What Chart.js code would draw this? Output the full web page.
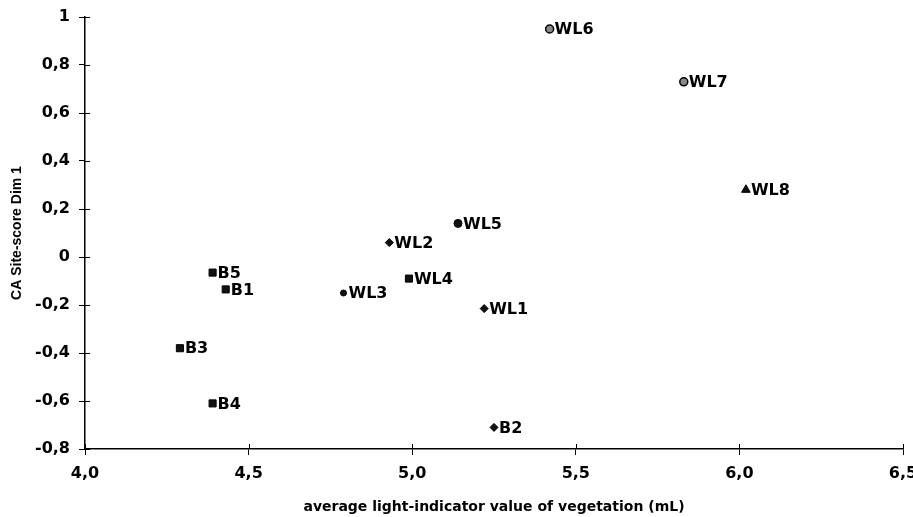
<!DOCTYPE html>
<html>
<head>
<meta charset="utf-8">
<script src="https://cdn.jsdelivr.net/npm/chart.js@4"></script>
<style>
  body { margin: 0; background: #fff; }
  #wrap { width: 913px; height: 517px; }
</style>
</head>
<body>
<div id="wrap"><canvas id="scatterChart" width="913" height="517"></canvas></div>
<script>
// Tick labels (comma decimals, as in the original)
const xTickLabels = ['4,0', '4,5', '5,0', '5,5', '6,0', '6,5'];
const yTickLabels = ['-0,8', '-0,6', '-0,4', '-0,2', '0', '0,2', '0,4', '0,6', '0,8', '1'];

// Sites drawn as squares
const squareNames = ['B1', 'B3', 'B4', 'B5', 'WL4'];
const squareX = [4.43, 4.29, 4.39, 4.39, 4.99];
const squareY = [-0.135, -0.38, -0.61, -0.065, -0.09];

// Sites drawn as diamonds
const diamondNames = ['B2', 'WL1', 'WL2'];
const diamondX = [5.25, 5.22, 4.93];
const diamondY = [-0.71, -0.215, 0.06];

// Small dot
const dotNames = ['WL3'];
const dotX = [4.79];
const dotY = [-0.15];

// Filled circle
const circleNames = ['WL5'];
const circleX = [5.14];
const circleY = [0.14];

// Ringed circles
const ringNames = ['WL6', 'WL7'];
const ringX = [5.42, 5.83];
const ringY = [0.95, 0.73];

// Triangle
const triangleNames = ['WL8'];
const triangleX = [6.02];
const triangleY = [0.28];

function toPoints(xs, ys) {
    return xs.map((x, i) => ({ x: x, y: ys[i] }));
}

const labelFont = 'bold 16px "DejaVu Sans"';

// Draw the site name just right of each marker
const pointLabels = {
    id: 'pointLabels',
    afterDatasetsDraw(chart) {
        const ctx = chart.ctx;
        ctx.save();
        ctx.font = labelFont;
        ctx.fillStyle = '#000';
        ctx.textBaseline = 'middle';
        ctx.textAlign = 'left';
        chart.data.datasets.forEach((ds, di) => {
            const meta = chart.getDatasetMeta(di);
            meta.data.forEach((pt, i) => {
                ctx.fillText(ds.names[i], pt.x + 5, pt.y + 1);
            });
        });
        ctx.restore();
    }
};

// Tick marks cross the axis lines in the original
const innerTicks = {
    id: 'innerTicks',
    afterDraw(chart) {
        const ctx = chart.ctx;
        const area = chart.chartArea;
        const xs = chart.scales.x;
        const ys = chart.scales.y;
        ctx.save();
        ctx.strokeStyle = '#000';
        ctx.lineWidth = 1;
        ctx.beginPath();
        xs.ticks.forEach((t, i) => {
            const px = Math.round(xs.getPixelForTick(i)) + 0.5;
            ctx.moveTo(px, area.bottom);
            ctx.lineTo(px, area.bottom - 5);
        });
        ys.ticks.forEach((t, i) => {
            const py = Math.round(ys.getPixelForTick(i)) + 0.5;
            ctx.moveTo(area.left, py);
            ctx.lineTo(area.left + 5, py);
        });
        ctx.stroke();
        ctx.restore();
    }
};

const tickFont = { family: 'DejaVu Sans', size: 16, weight: 'bold' };

new Chart(document.getElementById('scatterChart').getContext('2d'), {
    type: 'scatter',
    data: {
        datasets: [
            {
                names: squareNames,
                data: toPoints(squareX, squareY),
                pointStyle: 'rect',
                pointRadius: 5,
                backgroundColor: '#111',
                borderColor: '#000',
                borderWidth: 1
            },
            {
                names: diamondNames,
                data: toPoints(diamondX, diamondY),
                pointStyle: 'rectRot',
                pointRadius: 4,
                backgroundColor: '#111',
                borderColor: '#000',
                borderWidth: 1
            },
            {
                names: dotNames,
                data: toPoints(dotX, dotY),
                pointStyle: 'circle',
                pointRadius: 3,
                backgroundColor: '#111',
                borderColor: '#000',
                borderWidth: 1
            },
            {
                names: circleNames,
                data: toPoints(circleX, circleY),
                pointStyle: 'circle',
                pointRadius: 4,
                backgroundColor: '#111',
                borderColor: '#000',
                borderWidth: 1
            },
            {
                names: ringNames,
                data: toPoints(ringX, ringY),
                pointStyle: 'circle',
                pointRadius: 4,
                backgroundColor: '#888',
                borderColor: '#000',
                borderWidth: 1.5
            },
            {
                names: triangleNames,
                data: toPoints(triangleX, triangleY),
                pointStyle: 'triangle',
                pointRadius: 5,
                backgroundColor: '#111',
                borderColor: '#000',
                borderWidth: 1
            }
        ]
    },
    options: {
        responsive: false,
        animation: false,
        layout: {
            padding: { top: 17, right: 10, left: 0, bottom: 0 }
        },
        plugins: {
            legend: { display: false },
            tooltip: { enabled: false }
        },
        scales: {
            x: {
                type: 'linear',
                min: 4,
                max: 6.5,
                afterFit: function (scale) {
                    scale.height = 68;
                    scale.paddingLeft = 0;
                    scale.paddingRight = 0;
                },
                border: { display: true, color: '#000', width: 1.5 },
                grid: {
                    drawOnChartArea: false,
                    drawTicks: true,
                    tickLength: 6,
                    color: '#000'
                },
                ticks: {
                    stepSize: 0.5,
                    color: '#000',
                    padding: 9,
                    maxRotation: 0,
                    font: tickFont,
                    callback: function (value, index) {
                        return xTickLabels[index];
                    }
                },
                title: {
                    display: true,
                    text: 'average light-indicator value of vegetation (mL)',
                    color: '#000',
                    padding: { top: 0, bottom: 1 },
                    font: { family: 'DejaVu Sans', size: 14, weight: 'bold' }
                }
            },
            y: {
                type: 'linear',
                min: -0.8,
                max: 1,
                afterFit: function (scale) {
                    scale.width = 85;
                    scale.paddingTop = 0;
                    scale.paddingBottom = 0;
                },
                border: { display: true, color: '#000', width: 1.5 },
                grid: {
                    drawOnChartArea: false,
                    drawTicks: true,
                    tickLength: 6,
                    color: '#000'
                },
                ticks: {
                    stepSize: 0.2,
                    color: '#000',
                    padding: 9,
                    font: tickFont,
                    callback: function (value, index) {
                        return yTickLabels[index];
                    }
                },
                title: {
                    display: true,
                    text: 'CA Site-score Dim 1',
                    color: '#000',
                    padding: { top: 9, bottom: 0 },
                    font: { family: 'Liberation Sans', size: 14, weight: 'bold' }
                }
            }
        }
    },
    plugins: [pointLabels, innerTicks]
});
</script>
</body>
</html>
